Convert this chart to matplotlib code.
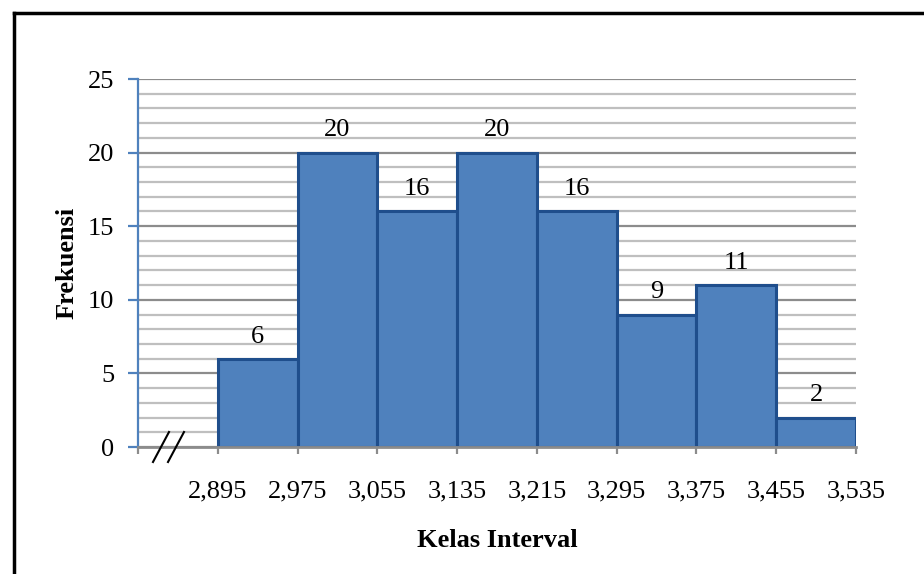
import matplotlib
matplotlib.use("Agg")
import matplotlib.pyplot as plt
from matplotlib.lines import Line2D
import numpy as np

edges = [2.895, 2.975, 3.055, 3.135, 3.215, 3.295, 3.375, 3.455, 3.535]
edge_labels = ["2,895", "2,975", "3,055", "3,135", "3,215", "3,295", "3,375", "3,455", "3,535"]
freq = [6, 20, 16, 20, 16, 9, 11, 2]
x_start = 2.815

plt.rcParams['font.family'] = ['Liberation Serif', 'DejaVu Serif']

fig = plt.figure(figsize=(9.24, 5.74), dpi=100)
W, H = 924, 574
ax = fig.add_axes([138/W, 1-447/H, (856-138)/W, (447-79)/H])

widths = np.diff(edges)
bars = ax.bar(edges[:-1], freq, width=widths, align='edge', color='#4F81BD',
              edgecolor='#1F4E8C', linewidth=2.2, zorder=3)
ax.bar_label(bars, labels=[str(v) for v in freq], padding=8, fontsize=19, color='black')

ax.set_xlim(x_start, edges[-1])
ax.set_ylim(0, 25)
ax.set_yticks(range(0, 26, 5))
ax.set_yticks(range(0, 26, 1), minor=True)
ax.grid(axis='y', which='major', color='#8C8C8C', linewidth=1.6, zorder=0)
ax.grid(axis='y', which='minor', color='#BFBFBF', linewidth=1.6, zorder=0)
ax.set_xticks([x_start] + edges)
ax.set_xticklabels([""] + edge_labels)

for s in ['top', 'right']:
    ax.spines[s].set_visible(False)
ax.spines['left'].set_color('#4F81BD')
ax.spines['left'].set_linewidth(1.6)
ax.spines['bottom'].set_color('#8C8C8C')
ax.spines['bottom'].set_linewidth(2)
ax.spines['bottom'].set_zorder(4)

ax.tick_params(axis='y', which='major', direction='out', length=7, width=1.6,
               color='#4F81BD', labelsize=19, pad=10)
ax.tick_params(axis='y', which='minor', length=0)
ax.tick_params(axis='x', direction='out', length=5, width=1.6, color='#8C8C8C',
               labelsize=19, pad=19)

ax.set_ylabel('Frekuensi', fontsize=19, fontweight='bold', labelpad=7)
ax.set_xlabel('Kelas Interval', fontsize=19, fontweight='bold', labelpad=19)

# axis break mark
for (x0, y0, x1, y1) in [(153, 462, 169, 432), (168, 462, 184, 432)]:
    fig.add_artist(Line2D([x0/W, x1/W], [1-y0/H, 1-y1/H], color='black', linewidth=1.5))

# outer frame (top and left only visible)
fig.add_artist(Line2D([14/W, 1.0], [1-13/H, 1-13/H], color='black', linewidth=2.5))
fig.add_artist(Line2D([14/W, 14/W], [1-13/H, 0], color='black', linewidth=2.5))

fig.savefig('out.png', dpi=100)
